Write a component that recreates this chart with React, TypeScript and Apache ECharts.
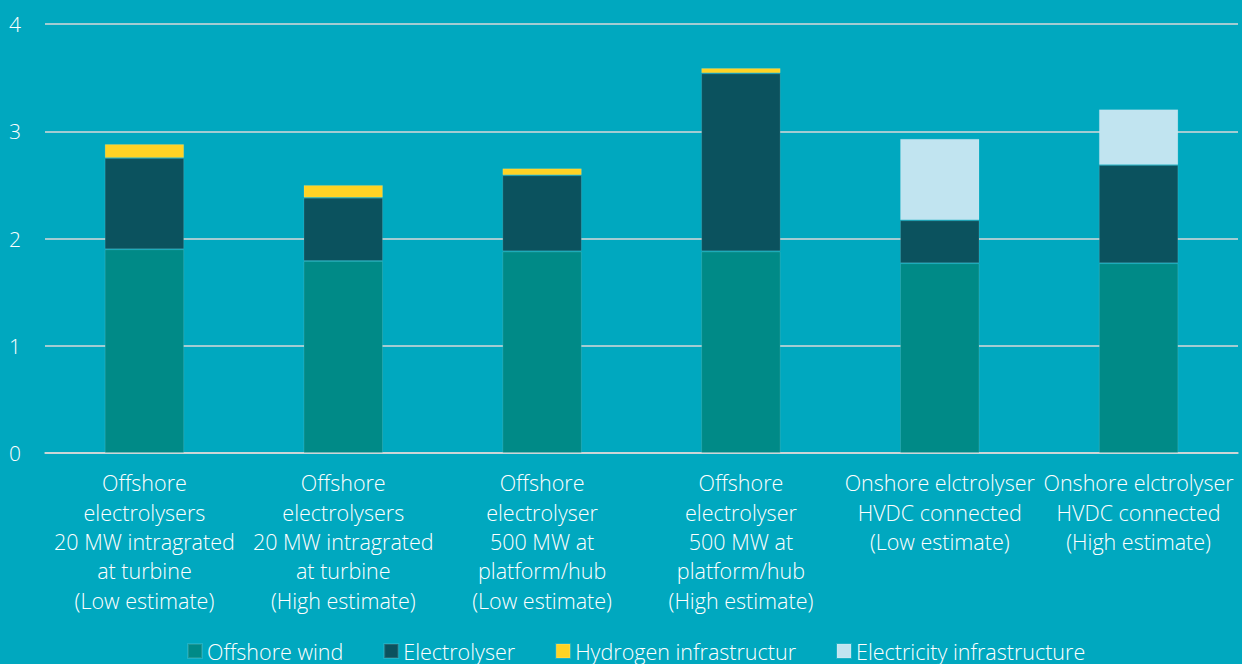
import React, { useEffect, useRef } from "react";
import * as echarts from "echarts";

const categories = [
  "Offshore\nelectrolysers\n20 MW intragrated\nat turbine\n(Low estimate)",
  "Offshore\nelectrolysers\n20 MW intragrated\nat turbine\n(High estimate)",
  "Offshore\nelectrolyser\n500 MW at\nplatform/hub\n(Low estimate)",
  "Offshore\nelectrolyser\n500 MW at\nplatform/hub\n(High estimate)",
  "Onshore elctrolyser\nHVDC connected\n(Low estimate)",
  "Onshore elctrolyser\nHVDC connected\n(High estimate)",
];

const offshoreWind = [1.9, 1.79, 1.88, 1.88, 1.77, 1.77];
const electrolyser = [0.85, 0.59, 0.71, 1.66, 0.4, 0.915];
const hydrogenInfra = [0.13, 0.12, 0.065, 0.05, 0, 0];
const electricityInfra = [0, 0, 0, 0, 0.76, 0.52];

const yTicks = { min: 0, max: 4, interval: 1 };

const FONT = "Open Sans";

export default function App() {
  const ref = useRef<HTMLDivElement>(null);

  useEffect(() => {
    document.body.style.margin = "0";
    if (!ref.current) return;
    const chart = echarts.init(ref.current, null, { renderer: "svg" });

    const mk = (name: string, data: number[], color: string) => ({
      name,
      type: "bar",
      stack: "total",
      data: data.map((v) => (v > 0 ? v : null)),
      barWidth: "40%",
      itemStyle: { color, borderColor: "rgba(255,255,255,0.12)", borderWidth: 1 },
    });

    chart.setOption({
      animation: false,
      backgroundColor: "#00A8BF",
      textStyle: { fontFamily: FONT },
      grid: { left: 45, right: 4, top: 24, bottom: 211, containLabel: false },
      legend: {
        top: 640,
        padding: 0,
        left: 187,
        icon: "rect",
        itemWidth: 14,
        itemHeight: 14,
        itemGap: 40,
        textStyle: { color: "#FFFFFF", fontSize: 21.5, fontFamily: FONT, fontWeight: 300 },
        data: ["Offshore wind", "Electrolyser", "Hydrogen infrastructur", "Electricity infrastructure"],
      },
      xAxis: {
        type: "category",
        data: categories,
        axisLine: { show: true, lineStyle: { color: "#D9D9D9", width: 1.5 } },
        axisTick: { show: false },
        axisLabel: {
          color: "#FFFFFF",
          fontSize: 21.5,
          fontFamily: FONT,
          fontWeight: 300,
          lineHeight: 29.4,
          margin: 15,
          interval: 0,
        },
      },
      yAxis: {
        type: "value",
        min: yTicks.min,
        max: yTicks.max,
        interval: yTicks.interval,
        axisLine: { show: false },
        axisTick: { show: false },
        splitLine: { lineStyle: { color: "#D9D9D9", width: 1.5 } },
        axisLabel: {
          color: "#FFFFFF",
          fontSize: 21,
          fontFamily: FONT,
          fontWeight: 300,
          margin: 24,
        },
      },
      series: [
        mk("Offshore wind", offshoreWind, "#008A87"),
        mk("Electrolyser", electrolyser, "#0B525E"),
        mk("Hydrogen infrastructur", hydrogenInfra, "#FFD324"),
        mk("Electricity infrastructure", electricityInfra, "#C1E4F0"),
      ],
    });

    return () => chart.dispose();
  }, []);

  return <div ref={ref} style={{ width: 1242, height: 664 }} />;
}
